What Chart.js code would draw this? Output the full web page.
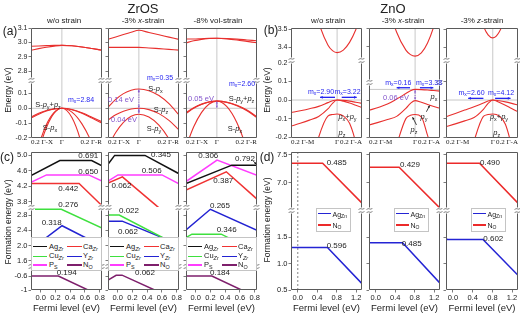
<!DOCTYPE html>
<html><head><meta charset="utf-8">
<script src="https://cdn.jsdelivr.net/npm/chart.js@4.4.1/dist/chart.umd.min.js"></script>
<style>
html,body{margin:0;padding:0;background:#fff;}
#root{position:relative;width:520px;height:315px;overflow:hidden;background:#fff;font-family:'Liberation Sans',Arial,sans-serif;color:#222;}
.t{position:absolute;white-space:nowrap;transform:translate(-50%,-50%);line-height:1;}
.tl{position:absolute;white-space:nowrap;transform:translate(0,-50%);line-height:1;}
.t sub,.tl sub{font-size:72%;vertical-align:-0.28em;line-height:0;}
.ch{position:absolute;}
.lg{position:absolute;background:#fff;border:1px solid #c4c4c4;box-sizing:border-box;}
.sw{position:absolute;height:1.6px;}
</style></head><body><div id="root"></div>
<script>
// ================= DATA =================
// (a) ZrOS band structures: k along 0.2 Γ-X (negative) | Γ | 0.2 Γ-R (positive)
const kA = [-0.2, -0.15, -0.1, -0.05, 0, 0.065, 0.13, 0.195, 0.26];
const kATicks = [-0.2, 0, 0.26];
const kALabels = ['0.2 Γ-X', 'Γ', '0.2 Γ-R'];
const aTopTicks = [2.8, 2.9, 3.0, 3.1];
const aBotTicks = [-0.2, -0.1, 0.0, 0.1];
const a1CB1 = [2.974, 2.976, 2.978, 2.980, 2.980, 2.977, 2.969, 2.958, 2.946];
const a1CB2 = [2.946, 2.957, 2.967, 2.975, 2.980, 2.977, 2.969, 2.958, 2.946];
const a1VB1 = [-0.060, -0.034, -0.015, -0.004, 0, -0.008, -0.030, -0.060, -0.092];
const a1VB2 = [-0.066, -0.040, -0.019, -0.005, 0, -0.010, -0.034, -0.066, -0.100];
const a1VB3 = [-0.52, -0.29, -0.13, -0.033, 0, -0.063, -0.25, -0.57, -1.0];
const a1VB4 = [-0.44, -0.25, -0.11, -0.028, 0, -0.026, -0.105, -0.236, -0.42];
const a2CB1 = [3.023, 3.039, 3.056, 3.072, 3.086, 3.070, 3.054, 3.038, 3.022];
const a2CB2 = [2.966, 2.966, 2.966, 2.966, 2.966, 2.962, 2.957, 2.952, 2.947];
const a2VB1 = [0.007, 0.060, 0.099, 0.122, 0.130, 0.119, 0.086, 0.031, -0.045];
const a2VB2 = [-0.079, -0.044, -0.020, -0.005, 0, -0.009, -0.036, -0.082, -0.146];
const a2VB3 = [-0.26, -0.164, -0.095, -0.054, -0.040, -0.059, -0.114, -0.207, -0.337];
const a3CB1 = [3.025, 3.025, 3.027, 3.029, 3.030, 3.028, 3.024, 3.018, 3.012];
const a3CB2 = [2.998, 3.012, 3.022, 3.028, 3.030, 3.026, 3.018, 3.008, 2.998];
const a3VB1 = [-0.030, 0.004, 0.028, 0.043, 0.048, 0.041, 0.020, -0.012, -0.057];
const a3VB2 = [-0.036, 0.000, 0.025, 0.042, 0.048, 0.040, 0.017, -0.017, -0.063];
const a3VB3 = [-0.26, -0.125, -0.029, 0.029, 0.048, 0.011, -0.098, -0.28, -0.54];

// (b) ZnO band structures: k along 0.2 Γ-M (negative) | Γ | 0.2 Γ-A (positive)
const kB = [-0.2, -0.16, -0.12, -0.08, -0.04, -0.02, 0, 0.027, 0.054, 0.081, 0.108];
const kBTicks = [-0.2, 0, 0.108];
const kBLabels = ['0.2 Γ-M', 'Γ', '0.2 Γ-A'];
const bTopTicks = [3.4, 3.5];
const bBotTicks = [-0.2, -0.1, 0.0, 0.1, 0.2];
const b1CB = [4.45, 4.06, 3.76, 3.54, 3.413, 3.381, 3.37, 3.384, 3.427, 3.497, 3.596];
const b1VB1 = [-0.068, -0.058, -0.047, -0.034, -0.014, -0.004, 0, -0.002, -0.006, -0.012, -0.018];
const b1VB2 = [-0.140, -0.125, -0.108, -0.088, -0.048, -0.018, 0, -0.006, -0.016, -0.028, -0.040];
const b1VB3 = [-0.60, -0.50, -0.40, -0.20, -0.086, -0.078, -0.075, -0.085, -0.125, -0.23, -0.40];
const b2CB = [4.17, 3.871, 3.641, 3.476, 3.377, 3.352, 3.344, 3.362, 3.417, 3.508, 3.636];
const b2VB1 = [-0.055, -0.040, -0.022, 0.005, 0.035, 0.050, 0.057, 0.056, 0.054, 0.051, 0.048];
const b2VB2 = [-0.134, -0.120, -0.105, -0.088, -0.045, -0.018, -0.003, -0.012, -0.024, -0.035, -0.045];
const b2VB3 = [-0.60, -0.50, -0.40, -0.24, -0.10, -0.082, -0.078, -0.090, -0.19, -0.30, -0.45];
const b3CB = [5.13, 4.53, 4.06, 3.72, 3.519, 3.469, 3.452, 3.483, 3.574, 3.728, 3.94];
const b3VB1 = [-0.090, -0.072, -0.054, -0.036, -0.016, -0.005, 0, -0.004, -0.010, -0.018, -0.027];
const b3VB2 = [-0.143, -0.128, -0.112, -0.094, -0.050, -0.018, 0, -0.012, -0.028, -0.046, -0.063];
const b3VB3 = [-0.60, -0.50, -0.40, -0.22, -0.088, -0.078, -0.075, -0.085, -0.13, -0.25, -0.42];
const b2VBM = 0.057;

// (c) ZrOS formation energies vs Fermi level: [Fermi level, energy]
const cXTicks = [0, 0.2, 0.4, 0.6, 0.8];
const cTopTicks = [3.8, 4.2, 4.6, 5.0];
const cMidTicks = [1.6, 2.0, 2.4, 2.8];
const cBotTicks = [-1, -0.6];
const c1Ag = [[-0.13,4.47],[0.26,4.86],[0.69,4.86],[0.83,4.72]];
const c1Ca = [[-0.13,4.27],[0.52,4.27],[0.83,3.70]];
const c1Cu = [[-0.13,2.95],[0.28,2.95],[0.83,2.46]];
const c1Y  = [[-0.13,1.91],[0.29,2.52],[0.83,1.99]];
const c1P  = [[-0.13,4.30],[0.08,4.49],[0.65,4.49],[0.83,4.33]];
const c1N  = [[-0.13,-0.60],[0.24,-0.60],[0.64,-1.0],[0.83,-1.19]];
const c2Ag = [[-0.13,4.76],[-0.04,4.99],[0.37,4.99],[0.83,4.52]];
const c2Ca = [[-0.13,4.28],[0.065,4.44],[0.50,3.74],[0.83,3.21]];
const c2Cu = [[-0.13,2.80],[0.022,2.80],[0.83,1.99]];
const c2Y  = [[-0.13,2.64],[0.062,2.64],[0.83,2.03]];
const c2P  = [[-0.13,4.33],[0.005,4.49],[0.60,4.49],[0.83,4.26]];
const c2N  = [[-0.13,-0.72],[-0.02,-0.58],[0.06,-0.575],[0.50,-1.0],[0.83,-1.32]];
const c3Ag = [[-0.13,4.27],[0.49,4.74],[0.83,4.74]];
const c3Ca = [[-0.13,4.10],[0.415,4.57],[0.83,3.87]];
const c3Cu = [[-0.13,2.21],[-0.05,2.30],[0.346,2.30],[0.83,1.84]];
const c3Y  = [[-0.13,2.41],[0.20,2.95],[0.83,2.40]];
const c3P  = [[-0.13,4.32],[0.29,4.87],[0.83,4.48]];
const c3N  = [[-0.13,-0.60],[0.22,-0.60],[0.62,-1.0],[0.83,-1.21]];
const cNames = ['Ag<sub><i>Zr</i></sub>','Ca<sub><i>Zr</i></sub>','Cu<sub><i>Zr</i></sub>','Y<sub><i>Zr</i></sub>','P<sub>S</sub>','N<sub>O</sub>'];
const c1Levels = ['0.691','0.650','0.442','0.276','0.318','0.194'];
const c2Levels = ['0.345','0.506','0.062','0.022','0.062','0.062'];
const c3Levels = ['0.306','0.792','0.387','0.265','0.346','0.184'];

// (d) ZnO formation energies vs Fermi level
const dXTicks = [0, 0.4, 0.8, 1.2];
const dTopTicks = [7.0, 7.5];
const dBotTicks = [0.5, 1.0, 1.5];
const d1N  = [[-0.14,7.35],[0.51,7.35],[1.32,6.63]];
const d1Ag = [[-0.14,1.31],[0.61,1.31],[1.32,0.62]];
const d2N  = [[-0.14,7.28],[0.48,7.28],[1.32,6.54]];
const d2Ag = [[-0.14,1.40],[0.55,1.40],[1.32,0.63]];
const d3N  = [[-0.14,7.35],[0.54,7.35],[1.32,6.63]];
const d3Ag = [[-0.14,1.48],[-0.11,1.46],[0.61,1.46],[1.32,0.78]];
const dNames = ['Ag<sub>Zn</sub>','N<sub>O</sub>'];
const dLevels = [['0.485','0.596'],['0.429','0.485'],['0.490','0.602']];

// ================= STYLE / LAYOUT =================
const SANS = "'Liberation Sans', Arial, sans-serif";
const SERIF = "'Liberation Serif', 'Times New Roman', serif";
const BAND = '#e8302e', REF = '#c8c8c8', FRAME = '#5a5a5a';
const BLUE = '#2424f0', PURPLE = '#8456cc', TXT = '#222';
const C_COL = ['#111111', '#f03232', '#3ee03e', '#2222d2', '#ff3cff', '#7e1f6c'];
const D_COL = ['#2424d4', '#ec2a2a'];
const colsL = [[31,71],[108,71],[186,71]];
const colsR = [[291,71],[369,71],[446,72]];
const aXR = [-0.2, 0.26], bXR = [-0.2, 0.108], cXR = [-0.13, 0.83], dXR = [-0.14, 1.32];

const root = document.getElementById('root');
const CFG = new Map();

const framePlugin = {
  id: 'frame',
  afterDatasetsDraw(chart) {
    const c = CFG.get(chart.canvas); if (!c) return;
    const f = c.frame || {}; const ctx = chart.ctx; const a = chart.chartArea;
    const l = Math.round(a.left) + 0.5, r = Math.round(a.right) - 0.5;
    const t = Math.round(a.top) + 0.5, b = Math.round(a.bottom) - 0.5;
    ctx.save();
    if (f.brk) { ctx.fillStyle = '#fff'; ctx.fillRect(l - 3.5, t - 3, 7, 6); ctx.fillRect(r - 3.5, t - 3, 7, 6); }
    ctx.strokeStyle = FRAME; ctx.lineWidth = 1;
    ctx.beginPath();
    const ts = f.brk ? t + 3 : (f.top ? t : a.top);
    const bs = f.bottom ? b : a.bottom;
    ctx.moveTo(l, ts); ctx.lineTo(l, bs); ctx.moveTo(r, ts); ctx.lineTo(r, bs);
    if (f.top) { ctx.moveTo(l, t); ctx.lineTo(r, t); }
    if (f.bottom) { ctx.moveTo(l, b); ctx.lineTo(r, b); }
    ctx.stroke();
    if (f.brk) {
      ctx.lineWidth = 0.8;
      for (const x of [l, r]) for (const dy of [-1.6, 1.6]) {
        ctx.beginPath(); ctx.moveTo(x - 2.8, t + dy + 0.8);
        ctx.bezierCurveTo(x - 1.2, t + dy - 2, x + 1.2, t + dy + 2, x + 2.8, t + dy - 0.8); ctx.stroke();
      }
    }
    ctx.restore();
  }
};

const marksPlugin = {
  id: 'marks',
  afterDatasetsDraw(chart) {
    const c = CFG.get(chart.canvas); if (!c || !c.arrows) return;
    const ctx = chart.ctx, xs = chart.scales.x, ys = chart.scales.y;
    for (const m of c.arrows) {
      const x1 = xs.getPixelForValue(m.x1), y1 = ys.getPixelForValue(m.y1);
      const x2 = xs.getPixelForValue(m.x2), y2 = ys.getPixelForValue(m.y2);
      ctx.save(); ctx.strokeStyle = m.color; ctx.fillStyle = m.color; ctx.lineWidth = m.w || 1;
      ctx.setLineDash(m.dash || []);
      ctx.beginPath(); ctx.moveTo(x1, y1); ctx.lineTo(x2, y2); ctx.stroke(); ctx.setLineDash([]);
      const s = m.hs || 3;
      const head = (xa, ya, xb, yb) => {
        const g = Math.atan2(yb - ya, xb - xa);
        ctx.beginPath(); ctx.moveTo(xb, yb);
        ctx.lineTo(xb - s * Math.cos(g - 0.45), yb - s * Math.sin(g - 0.45));
        ctx.lineTo(xb - s * Math.cos(g + 0.45), yb - s * Math.sin(g + 0.45));
        ctx.closePath(); ctx.fill();
      };
      if (m.end) head(x1, y1, x2, y2);
      if (m.start) head(x2, y2, x1, y1);
      ctx.restore();
    }
  }
};

function makeChart(box, o) {
  const pad = {l: 8, t: 6, r: 8, b: o.showX ? 2 : 6};
  const yW = o.showY ? 24 : 3;
  const xH = o.showX ? o.xH : 0;
  const cw = box.W + yW + pad.l + pad.r, chh = box.H + xH + pad.t + pad.b;
  const div = document.createElement('div'); div.className = 'ch';
  div.style.left = (box.L - yW - pad.l) + 'px'; div.style.top = (box.T - pad.t) + 'px';
  div.style.width = cw + 'px'; div.style.height = chh + 'px';
  const cv = document.createElement('canvas');
  cv.width = cw; cv.height = chh; cv.style.width = cw + 'px'; cv.style.height = chh + 'px';
  div.appendChild(cv); root.appendChild(div);
  CFG.set(cv, {frame: o.frame, arrows: o.arrows});
  const yt = o.yt.filter(v => v >= o.yr[0] - 1e-9 && v <= o.yr[1] + 1e-9);
  const yfmt = o.yfmt || (v => v.toFixed(1));
  return new Chart(cv, {
    type: 'line',
    data: {datasets: o.sets},
    options: {
      responsive: false, animation: false, devicePixelRatio: 1, events: [],
      layout: {padding: {left: pad.l, top: pad.t, right: pad.r, bottom: pad.b}},
      elements: {point: {radius: 0}, line: {capBezierPoints: false}},
      plugins: {legend: {display: false}, tooltip: {enabled: false}},
      scales: {
        x: {type: 'linear', min: o.xr[0], max: o.xr[1], display: !!o.showX, bounds: 'data',
          afterBuildTicks: s => { s.ticks = o.xt.map(v => ({value: v})); },
          afterFit: s => { s.height = xH; },
          ticks: {autoSkip: false, maxRotation: 0, minRotation: 0, align: o.xAlign || 'center',
            padding: o.xPad == null ? 1 : o.xPad, font: o.xFont, color: TXT,
            callback: (v, i) => o.xl ? o.xl[i] : v.toFixed(1)},
          grid: {drawOnChartArea: false, drawTicks: (o.xTick || 0) > 0, tickLength: o.xTick || 0, tickColor: FRAME, tickWidth: 0.8},
          border: {display: false}},
        y: {type: 'linear', min: o.yr[0], max: o.yr[1], bounds: 'data',
          afterBuildTicks: s => { s.ticks = yt.map(v => ({value: v})); },
          afterFit: s => { s.width = yW; },
          ticks: {display: !!o.showY, padding: 1, font: o.yFont || {family: SANS, size: 7}, color: TXT,
            callback: v => yfmt(v)},
          grid: {drawOnChartArea: false, drawTicks: true, tickLength: 2.5, tickColor: FRAME, tickWidth: 0.8},
          border: {display: false}}
      }
    },
    plugins: [framePlugin, marksPlugin]
  });
}

const band = (k, v) => ({data: k.map((x, i) => ({x, y: v[i]})), borderColor: BAND, borderWidth: 1.1,
  cubicInterpolationMode: 'monotone', fill: false, order: 0});
const vref = (x, yr, col, dash) => ({data: [{x, y: yr[0]}, {x, y: yr[1]}], borderColor: col || REF, borderWidth: dash ? 0.9 : 1,
  borderDash: dash || [], tension: 0, fill: false, order: 10});
const href = (y, xr) => ({data: [{x: xr[0], y}, {x: xr[1], y}], borderColor: REF, borderWidth: 1, tension: 0, fill: false, order: 10});
const seg = (pts, col) => ({data: pts.map(p => ({x: p[0], y: p[1]})), borderColor: col, borderWidth: 1.5, tension: 0, fill: false, order: 0});

// ================= (a) ZrOS bands =================
const aPanels = [
  {cb: [a1CB1, a1CB2], vb: [a1VB1, a1VB2, a1VB3, a1VB4], arrows: []},
  {cb: [a2CB1, a2CB2], vb: [a2VB1, a2VB2, a2VB3], arrows: [
    {x1: 0, y1: 0.126, x2: 0, y2: 0.004, color: PURPLE, dash: [1.2, 1.2], start: 1, end: 1, hs: 2.5, w: 0.9},
    {x1: 0, y1: -0.004, x2: 0, y2: -0.036, color: PURPLE, dash: [1.2, 1.2], start: 1, end: 1, hs: 2.5, w: 0.9}]},
  {cb: [a3CB1, a3CB2], vb: [a3VB1, a3VB2, a3VB3], arrows: [
    {x1: 0, y1: 0.045, x2: 0, y2: 0.004, color: PURPLE, dash: [1.2, 1.2], start: 1, end: 1, hs: 2.5, w: 0.9}]}
];
aPanels.forEach((p, i) => {
  const [L, W] = colsL[i];
  const yrT = [2.737, 3.102], yrB = [-0.2007, 0.191];
  makeChart({L, T: 28, W, H: 52}, {xr: aXR, yr: yrT, xt: kATicks, yt: aTopTicks, showY: i === 0, showX: false,
    sets: [...p.cb.map(v => band(kA, v)), vref(0, yrT)], frame: {top: true}});
  makeChart({L, T: 80, W, H: 58}, {xr: aXR, yr: yrB, xt: kATicks, xl: kALabels, yt: aBotTicks, showY: i === 0,
    showX: true, xH: 10, xPad: 0, xFont: {family: SERIF, size: 7}, xAlign: 'inner',
    sets: [...p.vb.map(v => band(kA, v)), vref(0, yrB), href(0, aXR)], frame: {bottom: true, brk: true}, arrows: p.arrows});
});

// ================= (b) ZnO bands =================
const bPanels = [
  {cb: b1CB, vb: [b1VB1, b1VB2, b1VB3], top: {T: 28, H: 32, yr: [3.329, 3.507]}, bot: {T: 60, H: 78, yr: [-0.204, 0.215]}, hline: 0,
   arrows: [
    {x1: -0.009, y1: 0.0145, x2: -0.074, y2: 0.0145, color: BLUE, end: 1, w: 1.3, hs: 3},
    {x1: 0.020, y1: 0.0145, x2: 0.085, y2: 0.0145, color: BLUE, end: 1, w: 1.3, hs: 3}]},
  {cb: b2CB, vb: [b2VB1, b2VB2, b2VB3], top: {T: 28, H: 54, yr: [3.2, 3.5]}, bot: {T: 82, H: 56, yr: [-0.204, 0.0968]}, hline: b2VBM,
   arrows: [
    {x1: -0.022, y1: 0.066, x2: -0.080, y2: 0.066, color: BLUE, end: 1, w: 1.3, hs: 3},
    {x1: 0.021, y1: 0.066, x2: 0.079, y2: 0.066, color: BLUE, end: 1, w: 1.3, hs: 3},
    {x1: 0, y1: 0.053, x2: 0, y2: 0.001, color: PURPLE, dash: [1.2, 1.2], start: 1, end: 1, hs: 2.5, w: 0.9},
    {x1: 0.049, y1: -0.063, x2: 0.063, y2: -0.030, color: '#111', end: 1, w: 0.8, hs: 2.5},
    {x1: 0.006, y1: -0.134, x2: -0.011, y2: -0.092, color: '#111', end: 1, w: 0.8, hs: 2.5}]},
  {cb: b3CB, vb: [b3VB1, b3VB2, b3VB3], top: {T: 28, H: 32, yr: [3.329, 3.507]}, bot: {T: 60, H: 78, yr: [-0.204, 0.215]}, hline: 0,
   arrows: [
    {x1: -0.040, y1: 0.009, x2: -0.105, y2: 0.009, color: BLUE, end: 1, w: 1.3, hs: 3},
    {x1: 0.010, y1: 0.009, x2: 0.076, y2: 0.009, color: BLUE, end: 1, w: 1.3, hs: 3}]}
];
bPanels.forEach((p, i) => {
  const [L, W] = colsR[i];
  makeChart({L, T: p.top.T, W, H: p.top.H}, {xr: bXR, yr: p.top.yr, xt: kBTicks, yt: bTopTicks, showY: i === 0, showX: false,
    sets: [band(kB, p.cb), vref(0, p.top.yr)], frame: {top: true}});
  makeChart({L, T: p.bot.T, W, H: p.bot.H}, {xr: bXR, yr: p.bot.yr, xt: kBTicks, xl: kBLabels, yt: bBotTicks, showY: i === 0,
    showX: true, xH: 10, xPad: 0, xFont: {family: SERIF, size: 7}, xAlign: 'inner',
    sets: [...p.vb.map(v => band(kB, v)), vref(0, p.bot.yr), href(p.hline, bXR)], frame: {bottom: true, brk: true}, arrows: p.arrows});
});

// ================= (c) ZrOS formation energies =================
const cPanels = [[c1Ag, c1Ca, c1Cu, c1Y, c1P, c1N], [c2Ag, c2Ca, c2Cu, c2Y, c2P, c2N], [c3Ag, c3Ca, c3Cu, c3Y, c3P, c3N]];
const cSecs = [
  {T: 152, H: 55, yr: [3.667, 5.077], yt: cTopTicks},
  {T: 207, H: 59, yr: [1.469, 3.009], yt: cMidTicks},
  {T: 266, H: 24, yr: [-1.0, -0.314], yt: cBotTicks}
];
const tickFont = {family: SANS, size: 7.5};
cPanels.forEach((lines, i) => {
  const [L, W] = colsL[i];
  cSecs.forEach((s, j) => {
    const last = j === 2;
    makeChart({L, T: s.T, W, H: s.H}, {xr: cXR, yr: s.yr, xt: cXTicks, yt: s.yt, showY: i === 0, yFont: tickFont,
      yfmt: v => (v === -1 ? '-1' : v.toFixed(1)),
      showX: last, xH: 12, xPad: 1, xTick: 2.5, xFont: tickFont,
      sets: lines.map((pts, k) => seg(pts, C_COL[k])),
      frame: {top: j === 0, bottom: last, brk: j > 0},
      arrows: (i === 2 && j === 0) ? [{x1: 0.775, y1: 4.855, x2: 0.82, y2: 4.762, color: '#111', end: 1, w: 0.8, hs: 2.5}] : []});
  });
});

// ================= (d) ZnO formation energies =================
const dPanels = [[d1Ag, d1N], [d2Ag, d2N], [d3Ag, d3N]];
const dSecs = [
  {T: 152, H: 58, yr: [6.507, 7.554], yt: dTopTicks},
  {T: 210, H: 80, yr: [0.5, 2.021], yt: dBotTicks}
];
dPanels.forEach((lines, i) => {
  const [L, W] = colsR[i];
  dSecs.forEach((s, j) => {
    const last = j === 1;
    const sets = lines.map((pts, k) => seg(pts, D_COL[k]));
    if (i === 0) sets.push(vref(0, s.yr, '#777', [2, 2]));
    makeChart({L, T: s.T, W, H: s.H}, {xr: dXR, yr: s.yr, xt: dXTicks, yt: s.yt, showY: i === 0, yFont: tickFont,
      showX: last, xH: 12, xPad: 1, xTick: 2.5, xFont: tickFont,
      sets, frame: {top: j === 0, bottom: last, brk: j > 0}});
  });
});

// ================= TEXT =================
function T(x, y, html, size, color, opt) {
  opt = opt || {};
  const d = document.createElement('div'); d.className = opt.left ? 'tl' : 't';
  d.style.left = x + 'px'; d.style.top = y + 'px'; d.style.fontSize = size + 'px'; d.style.color = color || TXT;
  if (opt.rot) d.style.transform = 'translate(-50%,-50%) rotate(-90deg)';
  if (opt.serif) d.style.fontFamily = SERIF;
  d.innerHTML = html; root.appendChild(d); return d;
}
const Sp = (a) => 'S-<i>p</i><sub>' + a + '</sub>';
const Spp = 'S-<i>p</i><sub>y</sub>+<i>p</i><sub>z</sub>';
const pp = (a) => '<i>p</i><sub>' + a + '</sub>';
const mx = (v) => 'm<sub>x</sub>=' + v;
const MXF = 7;

// legends (c)
colsL.forEach(([L, W]) => {
  const lg = document.createElement('div'); lg.className = 'lg';
  lg.style.left = L + 'px'; lg.style.top = '237px'; lg.style.width = W + 'px'; lg.style.height = '34px';
  root.appendChild(lg);
  const rows = [246.5, 256.3, 265.2];
  cNames.forEach((nm, k) => {
    const col = k % 2, row = Math.floor(k / 2);
    const sw = document.createElement('div'); sw.className = 'sw';
    sw.style.left = (L + (col ? 36 : 1.5)) + 'px'; sw.style.top = (rows[row] - 0.8) + 'px';
    sw.style.width = '14.5px'; sw.style.background = C_COL[k]; root.appendChild(sw);
    T(L + (col ? 52 : 18), rows[row], nm, 7.5, TXT, {left: true});
  });
});
// legends (d)
colsR.forEach(([L]) => {
  const x0 = L + 24.5;
  const lg = document.createElement('div'); lg.className = 'lg';
  lg.style.left = x0 + 'px'; lg.style.top = '208px'; lg.style.width = '35px'; lg.style.height = '23.5px';
  root.appendChild(lg);
  [213.6, 225].forEach((y, k) => {
    const sw = document.createElement('div'); sw.className = 'sw';
    sw.style.left = (x0 + 2) + 'px'; sw.style.top = (y - 0.8) + 'px'; sw.style.width = '13.5px';
    sw.style.background = D_COL[k]; root.appendChild(sw);
    T(x0 + 17, y, dNames[k], 7, TXT, {left: true});
  });
});

// titles
T(143, 8, 'ZrOS', 13); T(393, 8, 'ZnO', 13);
T(64, 20.5, 'w/o strain', 8); T(143, 20.5, '-3% <i>x</i>-strain', 8); T(218, 20.5, '-8% vol-strain', 8);
T(328, 20.5, 'w/o strain', 8); T(403, 20.5, '-3% <i>x</i>-strain', 8); T(482, 20.5, '-3% <i>z</i>-strain', 8);
T(10, 31, '(a)', 12); T(271, 30, '(b)', 12); T(7, 157, '(c)', 12); T(267, 157, '(d)', 12);
T(8, 90, 'Energy (eV)', 8.5, TXT, {rot: 1}); T(267, 90, 'Energy (eV)', 8.5, TXT, {rot: 1});
T(8, 222, 'Formation energy (eV)', 8.5, TXT, {rot: 1}); T(267, 220, 'Formation energy (eV)', 8.5, TXT, {rot: 1});
colsL.concat(colsR).forEach(([L, W]) => T(L + W / 2, 308, 'Fermi level (eV)', 9.5));

// (a) annotations
T(48, 104.5, Spp, 7.5); T(50, 128, Sp('x'), 7.5); T(81, 99, mx('2.84'), MXF, BLUE);
T(121, 100, '0.14 eV', 7.5, PURPLE); T(124, 119.5, '0.04 eV', 7.5, PURPLE);
T(155.5, 88.5, Sp('x'), 7.5); T(161, 110, Sp('z'), 7.5); T(154, 128.5, Sp('y'), 7.5);
T(160, 76.5, mx('0.35'), MXF, BLUE);
T(201, 99, '0.05 eV', 7.5, PURPLE); T(241.5, 99, Spp, 7.5); T(235, 128.5, Sp('x'), 7.5);
T(242, 83.3, mx('2.60'), MXF, BLUE);
// (b) annotations
T(321, 91, mx('2.90'), MXF, BLUE); T(347.5, 91, mx('3.22'), MXF, BLUE);
T(347.5, 116.5, pp('x') + '+' + pp('y'), 7.5); T(342, 133, pp('z'), 7.5);
T(398.3, 81.5, mx('0.16'), MXF, BLUE); T(429, 81.5, mx('3.38'), MXF, BLUE);
T(396, 98.3, '0.06 eV', 7.5, PURPLE); T(434, 97.3, pp('x'), 7.5); T(424, 117, pp('y'), 7.5); T(414, 130, pp('z'), 7.5);
T(471.5, 91.7, mx('2.60'), MXF, BLUE); T(501, 91.7, mx('4.12'), MXF, BLUE);
T(499, 116.7, pp('x') + '+' + pp('y'), 7.5); T(496.7, 133.3, pp('z'), 7.5);
// (c) transition levels
const cLabPos = [
  [[88.3,156],[88.3,171.7],[68.3,189.3],[68.3,205],[51.7,222.7],[66.7,273]],
  [[161,155],[151.7,171],[121.5,185.5],[129,211],[128,232],[145,273]],
  [[208.3,156],[245,159.3],[223.3,180.7],[220,205.5],[226.7,230],[220,273]]
];
[c1Levels, c2Levels, c3Levels].forEach((labs, i) => labs.forEach((s, k) => T(cLabPos[i][k][0], cLabPos[i][k][1], s, 8)));
// (d) transition levels
const dLabPos = [[[336.7,163.3],[336.7,246]], [[410,165],[411.7,244]], [[490,163.3],[493.3,239.3]]];
dLevels.forEach((labs, i) => labs.forEach((s, k) => T(dLabPos[i][k][0], dLabPos[i][k][1], s, 8)));
</script>
</body></html>
